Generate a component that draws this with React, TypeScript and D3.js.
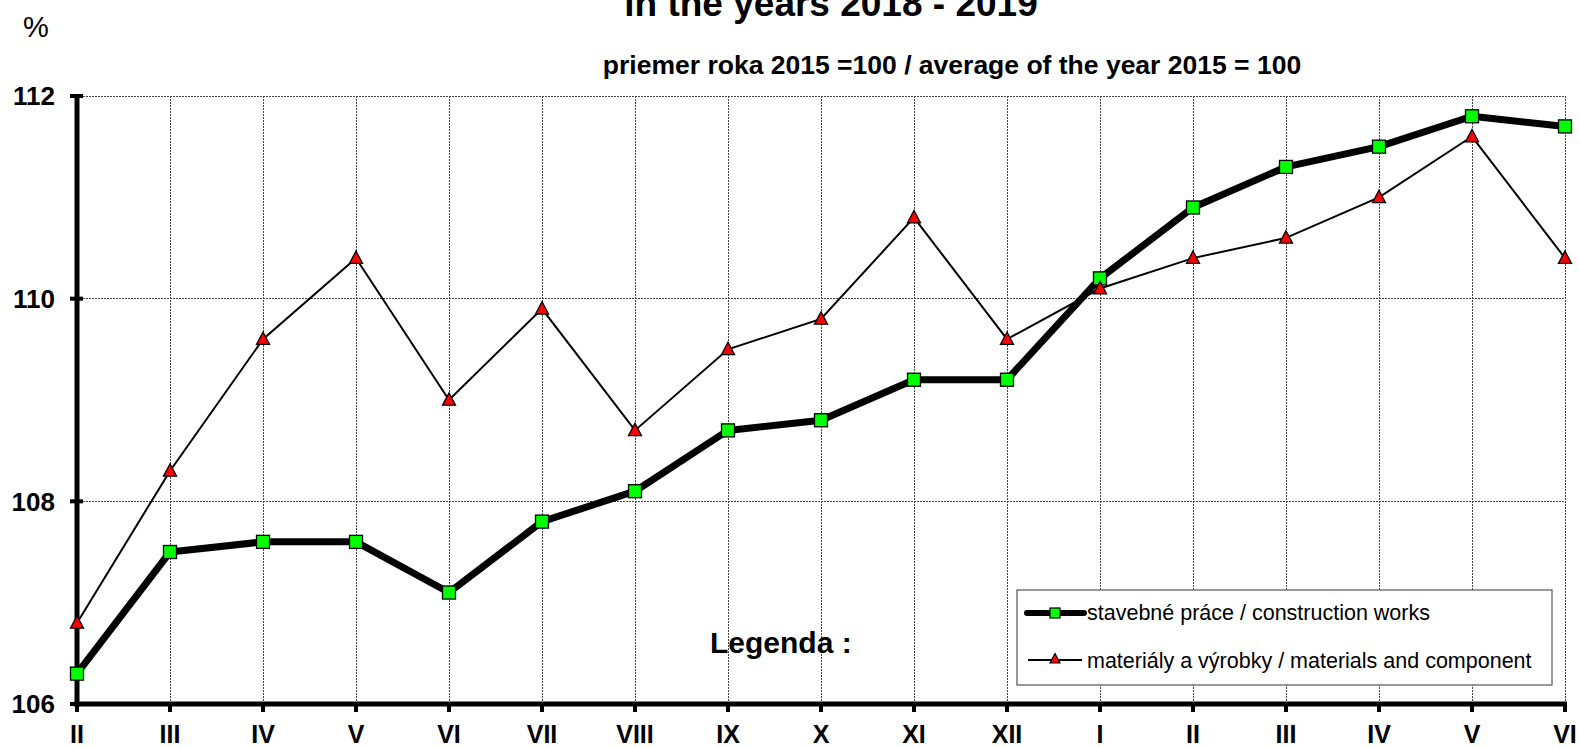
import React, { useEffect, useRef } from "react";
import * as d3 from "d3";

// Months from II/2018 to VI/2019
const months = ["II", "III", "IV", "V", "VI", "VII", "VIII", "IX", "X", "XI", "XII", "I", "II", "III", "IV", "V", "VI"];

// stavebné práce / construction works
const constructionWorks = [106.3, 107.5, 107.6, 107.6, 107.1, 107.8, 108.1, 108.7, 108.8, 109.2, 109.2, 110.2, 110.9, 111.3, 111.5, 111.8, 111.7];

// materiály a výrobky / materials and component
const materials = [106.8, 108.3, 109.6, 110.4, 109.0, 109.9, 108.7, 109.5, 109.8, 110.8, 109.6, 110.1, 110.4, 110.6, 111.0, 111.6, 110.4];

const yTicks = [106, 108, 110, 112];

const titleText = "in the years 2018 - 2019";
const subtitleText = "priemer roka 2015 =100 / average of the year 2015 = 100";
const legendLabels = ["stavebné práce / construction works", "materiály a výrobky / materials and component"];

const W = 1579;
const H = 747;
const FONT = "'Liberation Sans', Arial, sans-serif";

export default function App() {
  const svgRef = useRef<SVGSVGElement>(null);

  useEffect(() => {
    document.body.style.margin = "0";
    if (!svgRef.current) return;
    const svg = d3.select(svgRef.current);
    svg.selectAll("*").remove();

    const left = 77;
    const right = 1565;
    const top = 96;
    const bottom = 704;

    const x = d3.scaleLinear().domain([0, months.length - 1]).range([left, right]);
    const y = d3.scaleLinear().domain([106, 112]).range([bottom, top]);

    // titles (the first title line sits above the picture, as in the original)
    svg.append("text")
      .attr("x", 831).attr("y", 16)
      .attr("text-anchor", "middle")
      .attr("font-family", FONT).attr("font-weight", "bold").attr("font-size", 37)
      .text(titleText);

    svg.append("text")
      .attr("x", 952).attr("y", 74)
      .attr("text-anchor", "middle")
      .attr("font-family", FONT).attr("font-weight", "bold").attr("font-size", 26.5)
      .text(subtitleText);

    svg.append("text")
      .attr("x", 23).attr("y", 37)
      .attr("font-family", FONT).attr("font-size", 29)
      .text("%");

    // gridlines
    const grid = svg.append("g")
      .attr("stroke", "#444")
      .attr("stroke-width", 1)
      .attr("stroke-dasharray", "2,1")
      .attr("shape-rendering", "crispEdges");

    grid.selectAll(".hgrid")
      .data(yTicks.filter((t) => t > 106))
      .enter()
      .append("line")
      .attr("x1", left).attr("x2", right)
      .attr("y1", (d) => y(d)).attr("y2", (d) => y(d));

    grid.selectAll(".vgrid")
      .data(months.map((_, i) => i).filter((i) => i > 0))
      .enter()
      .append("line")
      .attr("x1", (d) => x(d)).attr("x2", (d) => x(d))
      .attr("y1", top).attr("y2", bottom);

    // "Legenda :" label (drawn over grid)
    svg.append("text")
      .attr("x", 710).attr("y", 653)
      .attr("font-family", FONT).attr("font-weight", "bold").attr("font-size", 30)
      .text("Legenda :");

    // legend box
    const lg = svg.append("g");
    lg.append("rect")
      .attr("x", 1017).attr("y", 590)
      .attr("width", 535).attr("height", 95)
      .attr("fill", "#fff").attr("stroke", "#555").attr("stroke-width", 1.2);

    // axes
    const axis = svg.append("g").attr("stroke", "#000");
    axis.append("line")
      .attr("x1", left).attr("x2", left)
      .attr("y1", top).attr("y2", bottom + 2.5)
      .attr("stroke-width", 5);
    axis.append("line")
      .attr("x1", left - 2.5).attr("x2", right + 2)
      .attr("y1", bottom).attr("y2", bottom)
      .attr("stroke-width", 5);
    axis.selectAll(".ytick")
      .data(yTicks)
      .enter()
      .append("line")
      .attr("x1", left - 7).attr("x2", left + 6)
      .attr("y1", (d) => y(d)).attr("y2", (d) => y(d))
      .attr("stroke-width", 4);
    axis.selectAll(".xtick")
      .data(months.map((_, i) => i))
      .enter()
      .append("line")
      .attr("x1", (d) => x(d)).attr("x2", (d) => x(d))
      .attr("y1", bottom).attr("y2", bottom + 8)
      .attr("stroke-width", 4);

    // tick labels
    svg.selectAll(".ylabel")
      .data(yTicks)
      .enter()
      .append("text")
      .attr("x", 55)
      .attr("y", (d) => y(d))
      .attr("dy", "0.36em")
      .attr("text-anchor", "end")
      .attr("font-family", FONT).attr("font-weight", "bold").attr("font-size", 26)
      .text((d) => d);

    svg.selectAll(".xlabel")
      .data(months)
      .enter()
      .append("text")
      .attr("x", (_, i) => x(i))
      .attr("y", 743)
      .attr("text-anchor", "middle")
      .attr("font-family", FONT).attr("font-weight", "bold").attr("font-size", 25)
      .text((d) => d);

    const line = d3.line<number>()
      .x((_, i) => x(i))
      .y((d) => y(d));

    // construction works: thick line + green squares
    svg.append("path")
      .datum(constructionWorks)
      .attr("d", line)
      .attr("fill", "none")
      .attr("stroke", "#000")
      .attr("stroke-width", 7)
      .attr("stroke-linejoin", "round");

    const sq = 13;
    svg.selectAll(".sq")
      .data(constructionWorks)
      .enter()
      .append("rect")
      .attr("x", (_, i) => x(i) - sq / 2)
      .attr("y", (d) => y(d) - sq / 2)
      .attr("width", sq).attr("height", sq)
      .attr("fill", "#00ff00").attr("stroke", "#000").attr("stroke-width", 1.3);

    // materials: thin line + red triangles
    svg.append("path")
      .datum(materials)
      .attr("d", line)
      .attr("fill", "none")
      .attr("stroke", "#000")
      .attr("stroke-width", 2);

    const tri = (cx: number, cy: number, s: number) =>
      `M${cx},${cy - s * 0.55}L${cx + s / 2},${cy + s * 0.4}L${cx - s / 2},${cy + s * 0.4}Z`;

    svg.selectAll(".tri")
      .data(materials)
      .enter()
      .append("path")
      .attr("d", (d, i) => tri(x(i), y(d), 13))
      .attr("fill", "#ff0000").attr("stroke", "#000").attr("stroke-width", 1.3);

    // legend entries
    lg.append("line")
      .attr("x1", 1027).attr("x2", 1084)
      .attr("y1", 613).attr("y2", 613)
      .attr("stroke", "#000").attr("stroke-width", 6).attr("stroke-linecap", "round");
    lg.append("rect")
      .attr("x", 1055 - 5).attr("y", 613 - 5)
      .attr("width", 10).attr("height", 10)
      .attr("fill", "#00ff00").attr("stroke", "#000").attr("stroke-width", 1.2);
    lg.append("line")
      .attr("x1", 1028).attr("x2", 1082)
      .attr("y1", 660).attr("y2", 660)
      .attr("stroke", "#000").attr("stroke-width", 2);
    lg.append("path")
      .attr("d", tri(1055, 659, 10))
      .attr("fill", "#ff0000").attr("stroke", "#000").attr("stroke-width", 1.2);

    lg.selectAll(".ltext")
      .data(legendLabels)
      .enter()
      .append("text")
      .attr("x", 1087)
      .attr("y", (_, i) => (i === 0 ? 620 : 668))
      .attr("font-family", FONT).attr("font-size", 21.5)
      .attr("fill", "#000")
      .text((d) => d);
  }, []);

  return (
    <svg
      ref={svgRef}
      width={W}
      height={H}
      style={{ position: "absolute", left: 0, top: 0, background: "#fff" }}
    />
  );
}
